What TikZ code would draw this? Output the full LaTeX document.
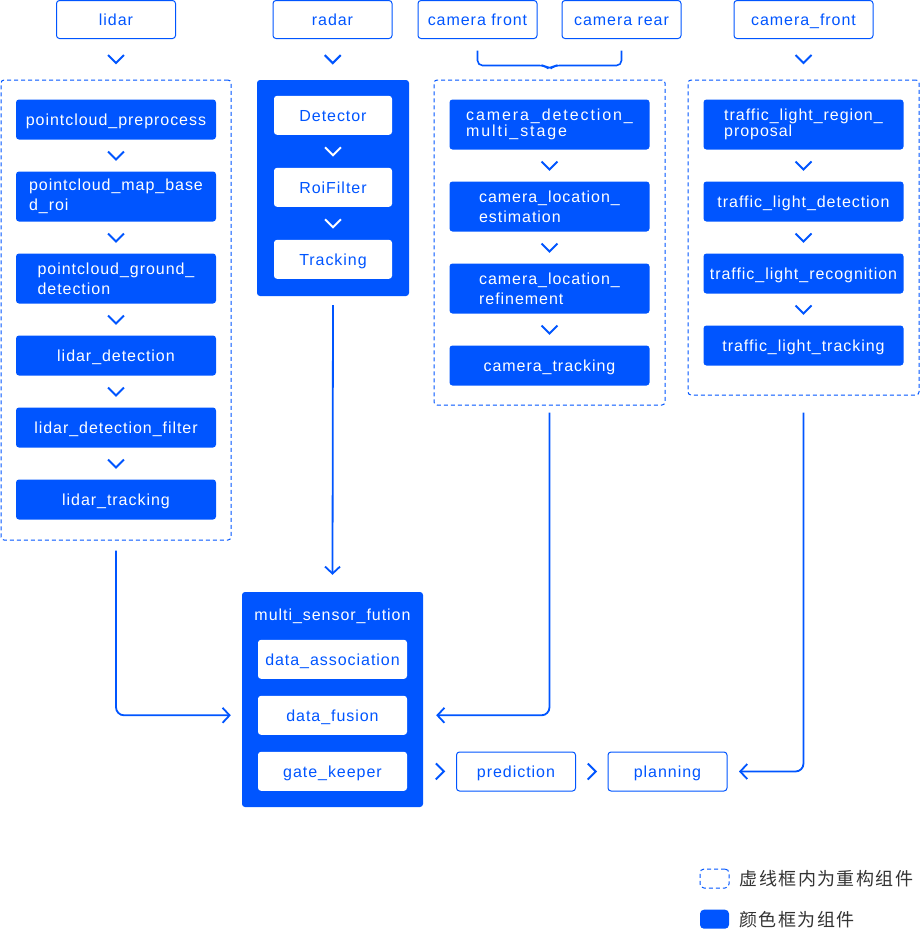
\documentclass[tikz,border=0pt]{standalone}
\usepackage{fontspec}
\setmainfont[LetterSpace=6]{Liberation Sans}
\newfontfamily\cjk[LetterSpace=8]{Noto Sans CJK SC}
\usetikzlibrary{positioning,calc,arrows.meta}
\definecolor{apolloblue}{HTML}{0055FF}
\definecolor{legendgray}{HTML}{333333}
\tikzset{
    box/.style={rounded corners=3pt, inner sep=0pt, outer sep=0pt, font=\fontsize{16}{20}\selectfont},
    oneline/.style={text height=13.75pt, text depth=1.25pt},
    source/.style={box, oneline, draw=apolloblue, line width=1pt, fill=white, text=apolloblue, minimum width=119pt, minimum height=38pt},
    module/.style={box, oneline, fill=apolloblue, text=white, minimum width=200pt, minimum height=40pt},
    module2/.style={box, fill=apolloblue, text=white, minimum width=200pt, minimum height=50pt, align=left},
    inner/.style={box, oneline, fill=white, text=apolloblue, minimum width=118pt, minimum height=39pt},
    refactor/.style={draw=apolloblue, line width=1pt, dash pattern=on 4pt off 3pt, rounded corners=3pt, inner sep=0pt},
    component/.style={fill=apolloblue, rounded corners=3pt, inner sep=0pt},
    chev/.style={draw=apolloblue, line width=2pt},
    flow/.style={draw=apolloblue, line width=1.8pt, rounded corners=8pt, -{Straight Barb[length=7pt,width=15pt]}},
}
\newcommand\chevdown[3][apolloblue]{\draw[chev, draw=#1] ($(#2.south)!0.5!(#3.north)$) ++(-8,-4) -- ++(8,8) -- ++(8,-8);}
\newcommand\chevright[2]{\draw[chev] ($#1!0.5!#2$) ++(-4,-8) -- ++(8,8) -- ++(-8,8);}
\begin{document}
\begin{tikzpicture}[x=1pt,y=-1pt]
    \useasboundingbox (0,0) rectangle (920,930);

    \node (lidar) [source] at (116,19.5) {lidar};
    \node (radar) [source] at (332.5,19.5) {radar};
    \node (camfront) [source] at (477.5,19.5) {camera front};
    \node (camrear) [source] at (621.5,19.5) {camera rear};
    \node (tlcam) [source, minimum width=139pt] at (803.5,19.5) {camera\_front};

    \node (lidargrp) [refactor, minimum width=230pt, minimum height=460pt] at (116,310) {};
    \node (radargrp) [component, minimum width=152pt, minimum height=216pt] at (333,188) {};
    \node (camgrp) [refactor, minimum width=231pt, minimum height=325pt] at (549.5,242.5) {};
    \node (tlgrp) [refactor, minimum width=231pt, minimum height=315pt] at (803.5,237.5) {};
    \node (fusion) [component, minimum width=181pt, minimum height=215pt] at (332.5,699.5) {};

    \node (preprocess) [module, below=20pt of lidargrp.north] {pointcloud\_preprocess};
    \node (mapbasedroi) [module2, below=32pt of preprocess] {pointcloud\_map\_base\\d\_roi};
    \node (ground) [module2, below=32pt of mapbasedroi] {pointcloud\_ground\_\\detection};
    \node (lidardet) [module, below=32pt of ground] {lidar\_detection};
    \node (lidarfilter) [module, below=32pt of lidardet] {lidar\_detection\_filter};
    \node (lidartrack) [module, below=32pt of lidarfilter] {lidar\_tracking};

    \node (detector) [inner, below=16pt of radargrp.north] {Detector};
    \node (roifilter) [inner, below=33pt of detector] {RoiFilter};
    \node (tracking) [inner, below=33pt of roifilter] {Tracking};

    \node (camdetect) [module2, below=20pt of camgrp.north, font=\fontsize{16}{16}\selectfont\addfontfeatures{LetterSpace=12}] {camera\_detection\_\\multi\_stage};
    \node (camlocest) [module2, below=32pt of camdetect] {camera\_location\_\\estimation};
    \node (camlocref) [module2, below=32pt of camlocest] {camera\_location\_\\refinement};
    \node (camtrack) [module, below=32pt of camlocref] {camera\_tracking};

    \node (tlproposal) [module2, below=20pt of tlgrp.north, font=\fontsize{16}{16}\selectfont] {traffic\_light\_region\_\\proposal};
    \node (tldetect) [module, below=32pt of tlproposal] {traffic\_light\_detection};
    \node (tlrecog) [module, below=32pt of tldetect] {traffic\_light\_recognition};
    \node (tltrack) [module, below=32pt of tlrecog] {traffic\_light\_tracking};

    \node (fusiontitle) [below=14pt of fusion.north, text=white, font=\fontsize{16}{20}\selectfont] {multi\_sensor\_fution};
    \node (association) [inner, minimum width=149pt, below=48pt of fusion.north] {data\_association};
    \node (datafusion) [inner, minimum width=149pt, below=17pt of association] {data\_fusion};
    \node (gatekeeper) [inner, minimum width=149pt, below=17pt of datafusion] {gate\_keeper};

    \node (prediction) [source, minimum height=39pt] at (516,771.5) {prediction};
    \node (planning) [source, minimum height=39pt, right=32.5pt of prediction] {planning};

    \foreach \a/\b in {lidar/lidargrp, radar/radargrp, tlcam/tlgrp,
        preprocess/mapbasedroi, mapbasedroi/ground, ground/lidardet, lidardet/lidarfilter, lidarfilter/lidartrack,
        camdetect/camlocest, camlocest/camlocref, camlocref/camtrack,
        tlproposal/tldetect, tldetect/tlrecog, tlrecog/tltrack}
        \chevdown{\a}{\b};
    \foreach \a/\b in {detector/roifilter, roifilter/tracking}
        \chevdown[white]{\a}{\b};
    \chevright{(fusion.east |- gatekeeper)}{(prediction.west)};
    \chevright{(prediction.east)}{(planning.west)};

    \draw[chev, line width=1.6pt, rounded corners=5pt] ($(camfront.south)+(0,12)$) -- ($(camfront.south)+(0,27)$)
        -- ($(camfront.south)!0.5!(camrear.south)+(-5,27)$) -- ++(5,4) -- ++(5,-4)
        -- ($(camrear.south)+(0,27)$) -- ($(camrear.south)+(0,12)$);

    \draw[flow] ([yshift=-9pt]radargrp.south) -- ([yshift=17pt]fusion.north);
    \draw[flow] ([yshift=-10pt]lidargrp.south) |- ($(fusion.west |- datafusion)+(-11,0)$);
    \draw[flow] ([yshift=-7pt]camgrp.south) |- ($(fusion.east |- datafusion)+(13,0)$);
    \draw[flow] ([yshift=-17pt]tlgrp.south) |- ($(planning.east)+(12,0)$);

    \node (legdash) [refactor, rounded corners=4pt, minimum width=29pt, minimum height=19pt] at (714.5,878.5) {};
    \node (legtext1) [right=10pt of legdash, inner sep=0pt, text=legendgray, font=\cjk\fontsize{18}{20}\selectfont] {虚线框内为重构组件};
    \node (legsolid) [component, rounded corners=4pt, minimum width=29pt, minimum height=19pt, below=21pt of legdash] {};
    \node (legtext2) [right=10pt of legsolid, inner sep=0pt, text=legendgray, font=\cjk\fontsize{18}{20}\selectfont] {颜色框为组件};
\end{tikzpicture}
\end{document}
